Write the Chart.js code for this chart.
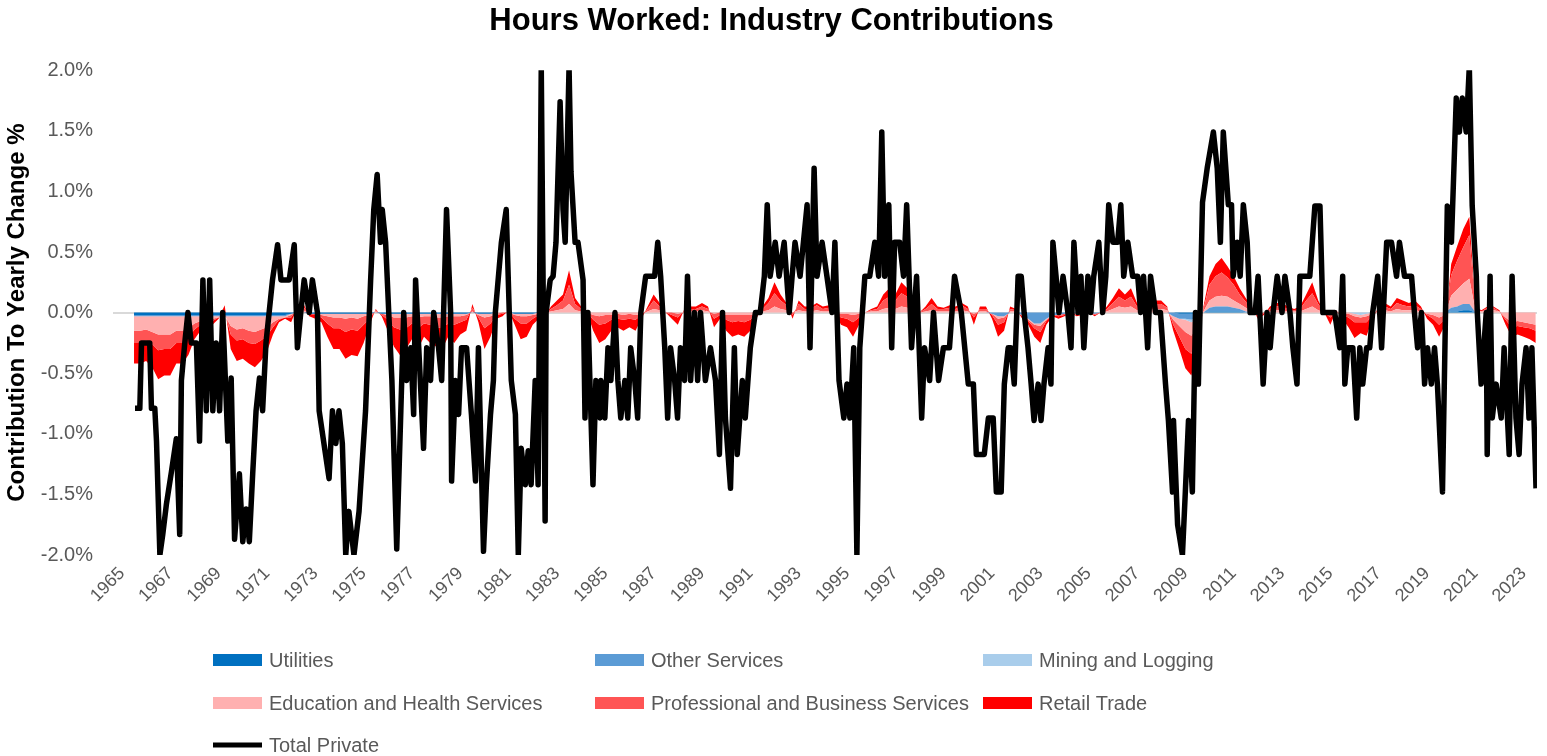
<!DOCTYPE html>
<html>
<head>
<meta charset="utf-8">
<title>Hours Worked: Industry Contributions</title>
<script src="https://cdn.jsdelivr.net/npm/chart.js@4.4.1/dist/chart.umd.min.js"></script>
<style>
  html, body { margin: 0; padding: 0; background: #fff; }
  #wrap { width: 1547px; height: 756px; position: relative; }
</style>
</head>
<body>
<div id="wrap"><canvas id="chart"></canvas></div>
<script>
// ----------------------
// DATA (percentage points of yearly change)
// ----------------------
const xTickYears = [1965, 1967, 1969, 1971, 1973, 1975, 1977, 1979, 1981, 1983, 1985, 1987, 1989, 1991, 1993,
  1995, 1997, 1999, 2001, 2003, 2005, 2007, 2009, 2011, 2013, 2015, 2017, 2019, 2021, 2023];
const yTicks = [-2, -1.5, -1, -0.5, 0, 0.5, 1, 1.5, 2];

// quarterly points for the stacked industry areas
const areaYears = [
  1965.5, 1965.75, 1966, 1966.25, 1966.5, 1966.75,
  1967, 1967.25, 1967.5, 1967.75, 1968, 1968.25, 1968.5, 1968.75,
  1969, 1969.25, 1969.5, 1969.75, 1970, 1970.25, 1970.5, 1970.75,
  1971, 1971.25, 1971.5, 1971.75, 1972, 1972.25, 1972.5, 1972.75,
  1973, 1973.25, 1973.5, 1973.75, 1974, 1974.25, 1974.5, 1974.75,
  1975, 1975.25, 1975.5, 1975.75, 1976, 1976.25, 1976.5, 1976.75,
  1977, 1977.25, 1977.5, 1977.75, 1978, 1978.25, 1978.5, 1978.75,
  1979, 1979.25, 1979.5, 1979.75, 1980, 1980.25, 1980.5, 1980.75,
  1981, 1981.25, 1981.5, 1981.75, 1982, 1982.25, 1982.5, 1982.75,
  1983, 1983.25, 1983.5, 1983.75, 1984, 1984.25, 1984.5, 1984.75,
  1985, 1985.25, 1985.5, 1985.75, 1986, 1986.25, 1986.5, 1986.75,
  1987, 1987.25, 1987.5, 1987.75, 1988, 1988.25, 1988.5, 1988.75,
  1989, 1989.25, 1989.5, 1989.75, 1990, 1990.25, 1990.5, 1990.75,
  1991, 1991.25, 1991.5, 1991.75, 1992, 1992.25, 1992.5, 1992.75,
  1993, 1993.25, 1993.5, 1993.75, 1994, 1994.25, 1994.5, 1994.75,
  1995, 1995.25, 1995.5, 1995.75, 1996, 1996.25, 1996.5, 1996.75,
  1997, 1997.25, 1997.5, 1997.75, 1998, 1998.25, 1998.5, 1998.75,
  1999, 1999.25, 1999.5, 1999.75, 2000, 2000.25, 2000.5, 2000.75,
  2001, 2001.25, 2001.5, 2001.75, 2002, 2002.25, 2002.5, 2002.75,
  2003, 2003.25, 2003.5, 2003.75, 2004, 2004.25, 2004.5, 2004.75,
  2005, 2005.25, 2005.5, 2005.75, 2006, 2006.25, 2006.5, 2006.75,
  2007, 2007.25, 2007.5, 2007.75, 2008, 2008.25, 2008.5, 2008.75,
  2009, 2009.25, 2009.5, 2009.75, 2010, 2010.25, 2010.5, 2010.75,
  2011, 2011.25, 2011.5, 2011.75, 2012, 2012.25, 2012.5, 2012.75,
  2013, 2013.25, 2013.5, 2013.75, 2014, 2014.25, 2014.5, 2014.75,
  2015, 2015.25, 2015.5, 2015.75, 2016, 2016.25, 2016.5, 2016.75,
  2017, 2017.25, 2017.5, 2017.75, 2018, 2018.25, 2018.5, 2018.75,
  2019, 2019.25, 2019.5, 2019.75, 2020, 2020.25, 2020.5, 2020.75,
  2021, 2021.25, 2021.5, 2021.75, 2022, 2022.25, 2022.5, 2022.75,
  2023, 2023.25, 2023.5
];

const utilities = [
  -0.02, -0.02, -0.02, -0.02, -0.02, -0.02,
  -0.02, -0.02, -0.02, -0.02, -0.02, -0.02, -0.02, -0.02,
  -0.02, -0.02, -0.02, -0.02, -0.02, -0.02, -0.02, -0.02,
  -0.02, -0.02, -0.02, -0.02, -0.01, 0, 0, -0.01,
  -0.01, -0.01, -0.01, -0.01, -0.01, -0.01, -0.01, -0.01,
  -0.01, -0.01, 0, -0.01, -0.01, -0.01, -0.01, -0.01,
  -0.01, -0.01, -0.01, -0.01, -0.01, -0.01, -0.01, -0.01,
  -0.01, -0.01, 0, -0.01, -0.01, -0.01, 0, 0,
  0, -0.01, -0.01, -0.01, -0.01, 0, 0, 0,
  0, 0, 0, 0, 0, 0, 0, 0,
  0, 0, 0, 0, 0, 0, 0, 0,
  0, 0, 0, 0, 0, 0, 0, 0,
  0, 0, 0, 0, 0, 0, 0, 0,
  0, 0, 0, 0, 0, 0, 0, 0,
  0, 0, 0, 0, 0, 0, 0, 0,
  0, 0, 0, 0, 0, 0, 0, 0,
  0, 0, 0, 0, 0, 0, 0, 0,
  0, 0, 0, 0, 0, 0, 0, 0,
  0, 0, 0, 0, 0, 0, 0, 0,
  0, 0, 0, 0, 0, 0, 0, 0,
  0, 0, 0, 0, 0, 0, 0, 0,
  0, 0, 0, 0, 0, 0, 0, -0.01,
  -0.01, -0.01, -0.01, 0, 0.01, 0.01, 0.01, 0.01,
  0.01, 0.01, 0, 0, 0, 0, 0, 0,
  0, 0, 0, 0, 0, 0, 0, 0,
  0, 0, 0, 0, 0, 0, 0, 0,
  0, 0, 0, 0, 0, 0, 0, 0,
  0, 0, 0, 0, 0.01, 0.01, 0.02, 0.02,
  0, 0, 0, 0, 0, 0, 0, 0,
  0, 0, 0
];

const otherServices = [
  -0.01, -0.01, -0.01, -0.01, -0.01, -0.01,
  -0.01, -0.01, -0.01, -0.01, -0.01, -0.01, -0.01, -0.01,
  -0.01, -0.01, -0.01, -0.01, -0.01, -0.01, -0.01, -0.01,
  -0.01, -0.01, -0.01, -0.01, 0, 0, 0, 0,
  0, 0, 0, 0, 0, 0, 0, 0,
  0, 0, 0, 0, 0, 0, 0, 0,
  0, 0, 0, 0, 0, 0, 0, 0,
  0, 0, 0, 0, 0, 0, 0, 0,
  0, 0, 0, 0, 0, 0, 0, 0,
  0, 0, 0, 0, 0, 0, 0, 0,
  0, 0, 0, 0, 0, 0, 0, 0,
  0, 0, 0, 0, 0, 0, 0, 0,
  0, 0, 0, 0, 0, 0, 0, 0,
  0, 0, 0, 0, 0, 0, 0, 0,
  0, 0, 0, 0, 0, 0, 0, 0,
  0, 0, 0, 0, 0, 0, 0, 0,
  0, 0, 0, 0, 0, 0, 0, 0,
  0, 0, 0, 0, 0, 0, 0, 0,
  -0.01, -0.03, -0.03, 0, 0, -0.02, -0.05, -0.09,
  -0.09, -0.05, -0.02, -0.02, -0.01, 0, -0.01, 0,
  0, -0.01, 0, 0, 0, 0, 0, 0,
  0, 0, 0, 0, 0, 0, -0.03, -0.04,
  -0.04, -0.05, -0.03, 0, 0.03, 0.04, 0.04, 0.04,
  0.03, 0.02, 0.01, 0, 0, 0, 0, 0,
  0, 0, 0, 0, 0, 0, 0, 0,
  0, 0, 0, 0, 0, 0, 0, 0,
  0, 0, 0, 0, 0, 0, 0, 0,
  0, 0, 0, 0, 0.03, 0.04, 0.05, 0.05,
  0, 0, 0, 0, 0, 0, 0, 0,
  0, 0, 0
];

const mining = [
  0, 0, 0, 0, 0, 0,
  0, 0, 0, 0, 0, 0, 0, 0,
  0, 0, 0, 0, 0, 0, 0, 0,
  0, 0, 0, 0, 0, 0, 0, 0,
  0, 0, 0, 0, 0, 0, 0, 0,
  0, 0, 0, 0, 0, 0, 0, 0,
  0, 0, 0, 0, 0, 0, 0, 0,
  0, 0, 0, 0, 0, 0, 0, 0,
  0, 0, 0, 0, 0, 0, 0, 0,
  0, 0, 0, 0, 0, 0, 0, 0,
  0, 0, 0, 0, 0, 0, 0, 0,
  0, 0, 0, 0, 0, 0, 0, 0,
  0, 0, 0, 0, 0, 0, 0, 0,
  0, 0, 0, 0, 0, 0, 0, 0,
  0, 0, 0, 0, 0, 0, 0, 0,
  0, 0, 0, 0, 0, 0, 0, 0,
  0, 0, 0, 0, 0, 0, 0, 0,
  0, 0, 0, 0, 0, 0, 0, 0,
  0, 0, 0, 0, 0, 0, 0, 0,
  0, 0, 0, 0, 0, 0, 0, 0,
  0, 0, 0, 0, 0, 0, 0, 0,
  0, 0, 0, 0, 0, 0, 0, 0,
  -0.01, -0.02, -0.01, 0, 0, 0, 0, 0,
  0, 0, 0, 0, 0, 0, 0, 0,
  0, 0, 0, 0, 0, 0, 0, 0,
  0, 0, 0, 0, -0.01, -0.02, -0.01, 0,
  0, 0, 0, 0, 0, 0, 0, 0,
  0, 0, 0, 0, 0, 0, -0.01, -0.01,
  0, 0, 0, 0, 0, 0, 0, 0,
  0, 0, 0
];

const edHealth = [
  -0.12, -0.12, -0.11, -0.13, -0.15, -0.15,
  -0.15, -0.12, -0.12, -0.10, -0.06, -0.04, -0.02, -0.02,
  -0.01, 0.01, -0.08, -0.11, -0.10, -0.12, -0.13, -0.11,
  -0.09, -0.05, -0.02, -0.01, -0.01, 0.01, 0.02, 0,
  0, -0.01, -0.02, -0.03, -0.03, -0.04, -0.03, -0.04,
  -0.02, -0.01, 0.01, 0, -0.01, -0.03, -0.03, -0.03,
  -0.02, -0.03, -0.02, -0.02, -0.03, -0.03, -0.02, -0.02,
  -0.02, -0.01, 0.01, -0.01, -0.03, -0.02, -0.01, 0,
  0, -0.01, -0.02, -0.02, -0.01, -0.01, 0, 0.01,
  0.02, 0.03, 0.07, 0.02, 0.01, 0, -0.02, -0.03,
  -0.02, -0.02, -0.01, -0.02, -0.01, -0.02, -0.01, 0.01,
  0.03, 0.02, 0, 0, -0.01, 0, 0.01, 0.01,
  0.02, 0.01, -0.01, 0, -0.02, -0.02, -0.02, -0.02,
  -0.02, -0.01, 0.01, 0.02, 0.05, 0.03, 0.02, 0,
  0.02, 0.01, 0.01, 0.02, 0.01, 0.01, 0, -0.01,
  -0.01, -0.02, -0.01, 0, 0.01, 0.01, 0.03, 0.04,
  0.03, 0.05, 0.04, 0.01, 0, 0.01, 0.02, 0.01,
  0.01, 0.01, 0.01, 0.02, 0.01, -0.01, 0.01, 0.01,
  0, -0.02, -0.01, 0.01, 0.01, 0, -0.01, -0.01,
  -0.02, -0.01, 0, 0, 0, 0, 0, 0,
  0, 0, 0, 0.01, 0.03, 0.05, 0.04, 0.05,
  0.02, 0.01, 0.02, 0.03, 0.03, 0.02, -0.03, -0.06,
  -0.10, -0.11, -0.06, 0.01, 0.06, 0.08, 0.09, 0.08,
  0.06, 0.04, 0.03, 0.01, -0.01, 0, 0.01, 0.02,
  0.02, 0.01, 0.01, 0.01, 0.03, 0.05, 0.02, 0,
  -0.01, 0, -0.01, -0.01, -0.02, -0.02, -0.02, -0.01,
  0.01, 0.02, 0.01, 0.03, 0.02, 0.02, 0.02, 0.01,
  -0.01, -0.02, -0.04, -0.02, 0.10, 0.14, 0.18, 0.22,
  0.02, 0.01, 0.02, 0.02, 0.01, -0.04, -0.08, -0.07,
  -0.08, -0.09, -0.10
];

const profBusiness = [
  -0.10, -0.10, -0.09, -0.10, -0.13, -0.12,
  -0.12, -0.10, -0.10, -0.08, -0.05, -0.03, -0.02, -0.02,
  0, 0.03, -0.07, -0.09, -0.09, -0.10, -0.10, -0.09,
  -0.07, -0.04, -0.01, 0, -0.02, 0.02, 0.03, -0.01,
  -0.01, -0.02, -0.06, -0.09, -0.09, -0.11, -0.10, -0.10,
  -0.07, -0.03, 0.01, -0.01, -0.04, -0.08, -0.10, -0.09,
  -0.06, -0.09, -0.06, -0.07, -0.08, -0.09, -0.06, -0.07,
  -0.05, -0.04, 0.03, -0.02, -0.09, -0.06, -0.01, -0.01,
  0.01, -0.03, -0.06, -0.06, -0.03, -0.01, -0.01, 0.02,
  0.04, 0.07, 0.16, 0.05, 0.02, 0, -0.04, -0.07,
  -0.07, -0.04, -0.04, -0.04, -0.04, -0.04, -0.01, 0.02,
  0.07, 0.03, 0, -0.02, -0.03, 0.01, 0.02, 0.02,
  0.03, 0.02, -0.04, -0.02, -0.04, -0.06, -0.05, -0.06,
  -0.04, -0.01, 0.02, 0.06, 0.11, 0.07, 0.04, -0.02,
  0.05, 0.02, 0.02, 0.04, 0.02, 0.03, 0, -0.03,
  -0.04, -0.06, -0.03, 0, 0.01, 0.02, 0.07, 0.09,
  0.07, 0.11, 0.09, 0.02, 0, 0.02, 0.05, 0.02,
  0.02, 0.03, 0.02, 0.04, 0.02, -0.03, 0.02, 0.02,
  -0.01, -0.05, -0.04, 0.02, 0.01, -0.01, -0.01, -0.03,
  -0.05, -0.01, 0, -0.01, -0.01, 0, -0.01, -0.01,
  0, -0.01, 0, 0.02, 0.05, 0.08, 0.06, 0.08,
  0.03, 0.01, 0.02, 0.04, 0.04, 0.02, -0.04, -0.09,
  -0.14, -0.15, -0.09, 0.02, 0.13, 0.17, 0.19, 0.16,
  0.13, 0.08, 0.05, 0.02, -0.02, -0.01, 0.02, 0.03,
  0.03, 0.02, 0.01, 0.02, 0.07, 0.11, 0.05, 0,
  -0.03, 0.01, -0.01, -0.03, -0.05, -0.04, -0.05, -0.01,
  0.02, 0.03, 0.02, 0.05, 0.04, 0.03, 0.04, 0.02,
  -0.01, -0.03, -0.06, -0.03, 0.17, 0.24, 0.30, 0.36,
  0.02, 0, 0.02, 0.02, 0, -0.02, -0.04, -0.04,
  -0.04, -0.04, -0.05
];

const retail = [
  -0.17, -0.17, -0.17, -0.19, -0.24, -0.22,
  -0.22, -0.17, -0.17, -0.14, -0.08, -0.05, -0.03, -0.03,
  -0.01, 0.05, -0.12, -0.17, -0.16, -0.17, -0.19, -0.17,
  -0.13, -0.06, -0.02, -0.01, -0.04, 0.01, 0.03, -0.01,
  -0.03, -0.04, -0.11, -0.17, -0.17, -0.22, -0.21, -0.21,
  -0.15, -0.05, 0.01, -0.01, -0.09, -0.16, -0.21, -0.17,
  -0.13, -0.17, -0.11, -0.15, -0.16, -0.17, -0.11, -0.15,
  -0.10, -0.09, 0.03, -0.04, -0.17, -0.11, -0.03, -0.02,
  0.01, -0.05, -0.13, -0.11, -0.05, -0.03, -0.02, 0.02,
  0.04, 0.05, 0.12, 0.05, 0.02, 0, -0.09, -0.15,
  -0.13, -0.09, -0.07, -0.09, -0.07, -0.09, -0.03, 0.02,
  0.05, 0.03, 0, -0.03, -0.06, 0.01, 0.02, 0.02,
  0.03, 0.02, -0.07, -0.03, -0.09, -0.12, -0.11, -0.12,
  -0.09, -0.03, 0.02, 0.04, 0.09, 0.05, 0.02, -0.03,
  0.03, 0.02, 0.02, 0.02, 0.02, 0.02, 0, -0.06,
  -0.07, -0.12, -0.06, 0, 0.01, 0.02, 0.05, 0.07,
  0.05, 0.09, 0.07, 0.02, 0, 0.02, 0.05, 0.02,
  0.01, 0.02, 0.02, 0.02, 0.02, -0.06, 0.02, 0.02,
  -0.03, -0.10, -0.07, 0.02, 0.01, -0.02, -0.03, -0.07,
  -0.09, -0.03, -0.01, -0.02, -0.01, 0, -0.01, -0.01,
  0, -0.01, 0, 0.02, 0.04, 0.07, 0.05, 0.07,
  0.03, 0.01, 0.01, 0.03, 0.03, 0.01, -0.05, -0.10,
  -0.16, -0.18, -0.11, 0.02, 0.07, 0.10, 0.12, 0.09,
  0.07, 0.05, 0.03, 0.02, -0.02, -0.01, 0.02, 0.03,
  0.03, 0.02, 0.01, 0.02, 0.05, 0.09, 0.03, 0,
  -0.06, 0.01, -0.03, -0.08, -0.13, -0.09, -0.11, -0.03,
  0.02, 0.03, 0.02, 0.04, 0.04, 0.03, 0.04, 0.02,
  -0.03, -0.05, -0.10, -0.05, 0.09, 0.12, 0.15, 0.15,
  0.01, 0.01, 0.01, 0.01, 0.01, -0.04, -0.08, -0.07,
  -0.08, -0.09, -0.10
];

// total private hours, read at the turning points of the line
const lineYears = [
  1965.54, 1965.74, 1965.81, 1966.15, 1966.22, 1966.36, 1966.43, 1966.57,
  1966.69, 1966.84, 1967.05, 1967.25, 1967.39, 1967.46, 1967.60, 1967.73,
  1967.87, 1968.08, 1968.21, 1968.35, 1968.49, 1968.63, 1968.76, 1968.90,
  1969.04, 1969.17, 1969.38, 1969.52, 1969.66, 1969.86, 1970.00, 1970.14,
  1970.27, 1970.41, 1970.55, 1970.69, 1970.82, 1970.96, 1971.23, 1971.44,
  1971.58, 1971.92, 1972.13, 1972.26, 1972.40, 1972.54, 1972.75, 1972.88,
  1973.09, 1973.16, 1973.57, 1973.71, 1973.85, 1973.98, 1974.12, 1974.26,
  1974.39, 1974.60, 1974.81, 1975.08, 1975.29, 1975.42, 1975.56, 1975.70,
  1975.77, 1975.91, 1976.04, 1976.17, 1976.37, 1976.54, 1976.66, 1976.78,
  1976.95, 1977.07, 1977.15, 1977.28, 1977.48, 1977.61, 1977.77, 1977.90,
  1978.10, 1978.23, 1978.43, 1978.60, 1978.64, 1978.80, 1978.93, 1979.05,
  1979.26, 1979.46, 1979.63, 1979.75, 1979.96, 1980.08, 1980.25, 1980.37,
  1980.45, 1980.70, 1980.90, 1981.11, 1981.28, 1981.40, 1981.52, 1981.69,
  1981.81, 1981.93, 1982.10, 1982.22, 1982.35, 1982.51, 1982.55, 1982.72,
  1982.84, 1982.96, 1983.13, 1983.25, 1983.34, 1983.50, 1983.58, 1983.75,
  1983.87, 1984.08, 1984.16, 1984.28, 1984.49, 1984.61, 1984.78, 1984.82,
  1984.98, 1985.11, 1985.23, 1985.40, 1985.52, 1985.64, 1985.81, 1985.93,
  1986.05, 1986.22, 1986.34, 1986.47, 1986.67, 1987.04, 1987.17, 1987.29,
  1987.46, 1987.58, 1987.70, 1987.87, 1987.99, 1988.11, 1988.28, 1988.40,
  1988.53, 1988.69, 1988.82, 1988.94, 1989.14, 1989.35, 1989.56, 1989.72,
  1989.85, 1989.97, 1990.18, 1990.34, 1990.46, 1990.67, 1990.79, 1991.00,
  1991.21, 1991.41, 1991.58, 1991.70, 1991.82, 1992.03, 1992.19, 1992.40,
  1992.61, 1992.73, 1992.85, 1993.06, 1993.35, 1993.47, 1993.64, 1993.76,
  1993.97, 1994.17, 1994.38, 1994.50, 1994.67, 1994.87, 1995.00, 1995.12,
  1995.28, 1995.41, 1995.53, 1995.74, 1995.94, 1996.15, 1996.31, 1996.44,
  1996.56, 1996.73, 1996.85, 1996.97, 1997.18, 1997.34, 1997.47, 1997.67,
  1997.88, 1998.09, 1998.21, 1998.42, 1998.58, 1998.79, 1998.99, 1999.24,
  1999.45, 1999.73, 2000.02, 2000.23, 2000.35, 2000.68, 2000.85, 2001.05,
  2001.18, 2001.38, 2001.51, 2001.67, 2001.79, 2001.92, 2002.08, 2002.21,
  2002.33, 2002.49, 2002.62, 2002.74, 2002.91, 2003.03, 2003.15, 2003.32,
  2003.44, 2003.52, 2003.65, 2003.77, 2003.94, 2004.14, 2004.27, 2004.39,
  2004.56, 2004.68, 2004.80, 2004.97, 2005.09, 2005.21, 2005.42, 2005.58,
  2005.71, 2005.83, 2006.00, 2006.20, 2006.33, 2006.45, 2006.62, 2006.82,
  2007.03, 2007.15, 2007.27, 2007.44, 2007.56, 2007.77, 2007.97, 2008.18,
  2008.30, 2008.47, 2008.51, 2008.68, 2008.88, 2009.00, 2009.13, 2009.29,
  2009.42, 2009.54, 2009.71, 2009.91, 2010.16, 2010.32, 2010.45, 2010.57,
  2010.78, 2010.91, 2010.98, 2011.15, 2011.27, 2011.40, 2011.56, 2011.68,
  2011.89, 2012.01, 2012.22, 2012.38, 2012.51, 2012.63, 2012.80, 2013.00,
  2013.12, 2013.33, 2013.45, 2013.62, 2013.74, 2013.95, 2014.15, 2014.36,
  2014.57, 2014.69, 2015.18, 2015.39, 2015.51, 2015.60, 2015.72, 2015.93,
  2016.09, 2016.22, 2016.34, 2016.50, 2016.63, 2016.75, 2016.96, 2017.12,
  2017.33, 2017.53, 2017.74, 2017.86, 2018.07, 2018.36, 2018.48, 2018.61,
  2018.77, 2018.90, 2019.02, 2019.18, 2019.31, 2019.43, 2019.64, 2019.84,
  2020.01, 2020.21, 2020.34, 2020.46, 2020.62, 2020.75, 2020.87, 2021.04,
  2021.08, 2021.24, 2021.45, 2021.49, 2021.61, 2021.70, 2021.86, 2022.07,
  2022.19, 2022.40, 2022.52, 2022.68, 2022.81, 2022.93, 2023.10, 2023.22,
  2023.34, 2023.51
];

const totalPrivate = [
  -0.79, -0.79, -0.25, -0.25, -0.79, -0.79, -1.06, -2.00,
  -1.83, -1.58, -1.31, -1.04, -1.83, -0.56, -0.25, 0,
  -0.25, -0.25, -1.06, 0.27, -0.81, 0.27, -0.81, -0.25,
  -0.81, 0, -1.06, -0.54, -1.87, -1.33, -1.89, -1.62,
  -1.89, -1.33, -0.81, -0.54, -0.81, -0.25, 0.27, 0.56,
  0.27, 0.27, 0.56, -0.29, 0, 0.27, 0, 0.27,
  0, -0.81, -1.37, -0.81, -1.08, -0.81, -1.08, -2.00,
  -1.64, -2.00, -1.64, -0.81, 0.27, 0.85, 1.14, 0.58,
  0.85, 0.58, 0, -0.56, -1.95, -0.81, 0, -0.56,
  -0.29, -0.84, 0.27, -0.29, -1.12, -0.29, -0.56, 0,
  -0.29, -0.56, 0.85, 0, -1.39, -0.56, -0.84, -0.29,
  -0.29, -0.84, -1.39, -0.29, -1.97, -1.42, -0.84, -0.56,
  0, 0.58, 0.85, -0.56, -0.84, -2.00, -1.12, -1.42,
  -1.14, -1.42, -0.56, -1.42, 2.03, -1.72, 0, 0.27,
  0.30, 0.58, 1.74, 0.85, 0.58, 2.03, 1.16, 0.58,
  0.58, 0.27, -0.87, 0, -1.42, -0.56, -0.87, -0.56,
  -0.87, -0.29, -0.56, 0, -0.56, -0.87, -0.56, -0.87,
  -0.29, -0.56, -0.87, 0, 0.30, 0.30, 0.58, 0.30,
  -0.29, -0.87, -0.29, -0.56, -0.87, -0.29, -0.56, 0.30,
  -0.56, 0, -0.56, 0, -0.56, -0.29, -0.56, -1.17,
  0, -0.87, -1.45, -0.29, -1.17, -0.56, -0.87, -0.29,
  0, 0, 0.30, 0.89, 0.30, 0.58, 0.30, 0.58,
  0, 0.30, 0.58, 0.30, 0.89, -0.29, 1.19, 0.30,
  0.58, 0.30, 0, 0.58, -0.56, -0.87, -0.59, -0.87,
  -0.29, -2.00, -0.29, 0.30, 0.30, 0.58, 0.30, 1.49,
  0.30, 0.89, -0.29, 0.58, 0.58, 0.30, 0.89, -0.29,
  0.30, -0.87, -0.29, -0.56, 0, -0.56, -0.29, -0.29,
  0.30, 0, -0.59, -0.59, -1.17, -1.17, -0.87, -0.87,
  -1.48, -1.48, -0.59, -0.29, -0.29, -0.59, 0.30, 0.30,
  0, -0.29, -0.59, -0.89, -0.59, -0.89, -0.59, -0.29,
  -0.59, 0.58, 0.30, 0, 0.30, 0, -0.29, 0.58,
  0, 0.30, -0.29, 0.30, 0, 0.30, 0.58, 0,
  0.30, 0.89, 0.58, 0.58, 0.89, 0.30, 0.58, 0.30,
  0.30, 0, 0.30, -0.29, 0.30, 0, 0, -0.59,
  -0.89, -1.48, -0.89, -1.75, -2.00, -1.48, -0.89, -1.48,
  0, -0.59, 0.91, 1.20, 1.49, 1.19, 0.58, 1.49,
  0.89, 0.89, 0.30, 0.58, 0.30, 0.89, 0.58, 0,
  0, 0.30, -0.59, 0, -0.29, 0, 0.30, 0,
  0.30, 0, -0.29, -0.59, 0.30, 0.30, 0.30, 0.88,
  0.88, 0, 0, -0.29, 0.30, -0.59, -0.29, -0.29,
  -0.87, -0.29, -0.59, -0.29, -0.29, 0, 0.30, -0.29,
  0.58, 0.58, 0.30, 0.58, 0.30, 0.30, 0, -0.29,
  0, -0.59, -0.29, -0.59, -0.29, -0.59, -1.48, 0.88,
  0.58, 1.77, 1.49, 1.77, 1.49, 2.03, 0.88, 0.30,
  0, -0.59, 0, -1.17, 0.30, -0.87, -0.59, -0.87,
  -0.29, -1.17, 0.30, -0.87, -1.17, -0.59, -0.29, -0.87,
  -0.29, -1.45
];

// ----------------------
// CHART
// ----------------------
const FONT = "'Liberation Sans', Arial, sans-serif";
const GREY = '#595959';

const areaSeries = [
  { label: 'Utilities', values: utilities, color: '#0070C0' },
  { label: 'Other Services', values: otherServices, color: '#5B9BD5' },
  { label: 'Mining and Logging', values: mining, color: '#A9CDEB' },
  { label: 'Education and Health Services', values: edHealth, color: '#FFB0B0' },
  { label: 'Professional and Business Services', values: profBusiness, color: '#FF5454' },
  { label: 'Retail Trade', values: retail, color: '#FF0000' }
];

const toPoints = (xs, ys) => xs.map((x, i) => ({ x, y: ys[i] }));

const datasets = areaSeries.map((s, i) => ({
  label: s.label,
  data: toPoints(areaYears, s.values),
  backgroundColor: s.color,
  borderColor: s.color,
  borderWidth: 0,
  pointRadius: 0,
  fill: i === 0 ? 'origin' : '-1',
  stack: 'industries',
  order: 1,
  tension: 0
}));

datasets.push({
  label: 'Total Private',
  data: toPoints(lineYears, totalPrivate),
  borderColor: '#000000',
  backgroundColor: '#000000',
  borderWidth: 5.5,
  borderJoinStyle: 'round',
  pointRadius: 0,
  fill: false,
  stack: 'total',
  order: 0,
  tension: 0
});

// legend laid out as a 3-column grid under the axis
const gridLegend = {
  id: 'gridLegend',
  afterDraw(chart) {
    const { ctx } = chart;
    const colX = [213, 595, 983];
    const rowY = [660, 703, 745];
    ctx.save();
    ctx.font = `20px ${FONT}`;
    ctx.textBaseline = 'middle';
    ctx.textAlign = 'left';
    chart.data.datasets.forEach((ds, i) => {
      const x = colX[i % 3];
      const y = rowY[Math.floor(i / 3)];
      if (ds.stack === 'total') {
        ctx.fillStyle = ds.borderColor;
        ctx.fillRect(x, y - 2.5, 49, 5);
      } else {
        ctx.fillStyle = ds.backgroundColor;
        ctx.fillRect(x, y - 6, 49, 12);
      }
      ctx.fillStyle = GREY;
      ctx.fillText(ds.label, x + 56, y + 1);
    });
    ctx.restore();
  }
};

new Chart(document.getElementById('chart'), {
  type: 'line',
  data: { datasets },
  options: {
    responsive: true,
    maintainAspectRatio: false,
    animation: false,
    layout: { padding: { left: 0, right: 4, top: 0, bottom: 131 } },
    plugins: {
      legend: { display: false },
      tooltip: { enabled: false },
      title: {
        display: true,
        text: 'Hours Worked: Industry Contributions',
        color: '#000000',
        font: { family: FONT, size: 31, weight: 'bold' },
        padding: { top: 3, bottom: 30 }
      }
    },
    scales: {
      x: {
        type: 'linear',
        min: 1964.63,
        max: 2023.55,
        afterBuildTicks: axis => { axis.ticks = xTickYears.map(v => ({ value: v })); },
        afterFit: axis => { axis.height = 70; },
        grid: { display: false, drawTicks: false },
        border: { display: false },
        ticks: {
          autoSkip: false,
          minRotation: 45,
          maxRotation: 45,
          padding: 8,
          color: GREY,
          font: { family: FONT, size: 18 },
          callback: v => String(v)
        }
      },
      y: {
        stacked: 'single',
        min: -2,
        max: 2,
        afterBuildTicks: axis => { axis.ticks = yTicks.map(v => ({ value: v })); },
        afterFit: axis => { axis.width = 113; },
        grid: {
          drawTicks: false,
          lineWidth: 2,
          color: c => (c.tick && c.tick.value === 0 ? '#D9D9D9' : 'rgba(0,0,0,0)')
        },
        border: { display: false },
        ticks: {
          padding: 20,
          color: GREY,
          font: { family: FONT, size: 20 },
          callback: v => v.toFixed(1) + '%'
        },
        title: {
          display: true,
          text: 'Contribution To Yearly Change %',
          color: '#000000',
          font: { family: FONT, size: 24, weight: 'bold' },
          padding: { top: 3, bottom: 0 }
        }
      }
    }
  },
  plugins: [gridLegend]
});
</script>
</body>
</html>
